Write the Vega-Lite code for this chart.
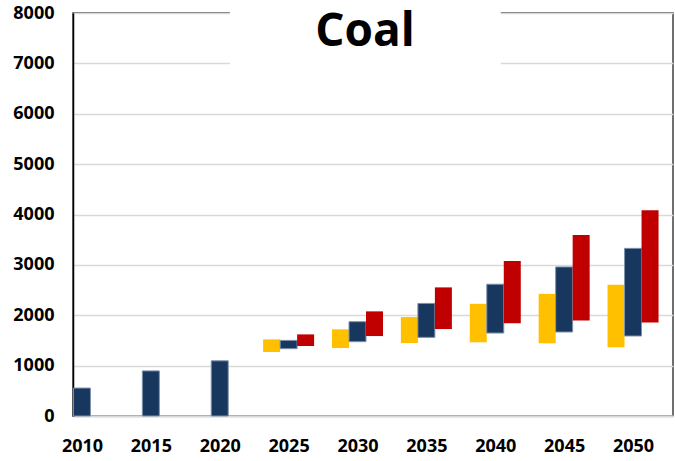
{
  "$schema": "https://vega.github.io/schema/vega-lite/v6.json",
  "width": 600,
  "height": 403,
  "autosize": "none",
  "padding": {"left": 73, "top": 13, "right": 2, "bottom": 45},
  "datasets": {
    "coal": [
      {"year": 2010, "scenario": "Central", "low": 0, "high": 555},
      {"year": 2015, "scenario": "Central", "low": 0, "high": 895},
      {"year": 2020, "scenario": "Central", "low": 0, "high": 1095},
      {"year": 2025, "scenario": "Low", "low": 1270, "high": 1521},
      {"year": 2025, "scenario": "Central", "low": 1336, "high": 1501},
      {"year": 2025, "scenario": "High", "low": 1389, "high": 1620},
      {"year": 2030, "scenario": "Low", "low": 1349, "high": 1720},
      {"year": 2030, "scenario": "Central", "low": 1475, "high": 1872},
      {"year": 2030, "scenario": "High", "low": 1587, "high": 2077},
      {"year": 2035, "scenario": "Low", "low": 1448, "high": 1964},
      {"year": 2035, "scenario": "Central", "low": 1561, "high": 2235},
      {"year": 2035, "scenario": "High", "low": 1726, "high": 2553},
      {"year": 2040, "scenario": "Low", "low": 1463, "high": 2227},
      {"year": 2040, "scenario": "Central", "low": 1647, "high": 2616},
      {"year": 2040, "scenario": "High", "low": 1839, "high": 3077},
      {"year": 2045, "scenario": "Low", "low": 1443, "high": 2425},
      {"year": 2045, "scenario": "Central", "low": 1667, "high": 2959},
      {"year": 2045, "scenario": "High", "low": 1898, "high": 3591},
      {"year": 2050, "scenario": "Low", "low": 1364, "high": 2603},
      {"year": 2050, "scenario": "Central", "low": 1588, "high": 3328},
      {"year": 2050, "scenario": "High", "low": 1858, "high": 4086}
    ],
    "titlebox": [{"label": "Coal"}]
  },
  "layer": [
    {
      "data": {"name": "coal"},
      "encoding": {
        "x": {
          "field": "year",
          "type": "quantitative",
          "scale": {"domain": [2009.35, 2052.9], "nice": false, "zero": false, "padding": 0},
          "axis": {
            "title": null,
            "values": [2010, 2015, 2020, 2025, 2030, 2035, 2040, 2045, 2050],
            "format": "d",
            "grid": false,
            "ticks": false,
            "domainColor": "#d9d9d9",
            "domainWidth": 2,
            "labelFont": "Open Sans",
            "labelFontSize": 18,
            "labelFontWeight": "bold",
            "labelColor": "#000000",
            "labelPadding": 21,
            "labelFlush": false,
            "labelOverlap": false
          }
        },
        "y": {
          "field": "low",
          "type": "quantitative",
          "scale": {"domain": [0, 8000], "nice": false, "padding": 0},
          "axis": {
            "title": null,
            "values": [0, 1000, 2000, 3000, 4000, 5000, 6000, 7000, 8000],
            "format": "d",
            "grid": true,
            "gridColor": "#d9d9d9",
            "gridWidth": 1.5,
            "ticks": false,
            "domainColor": "#000000",
            "domainWidth": 1.5,
            "labelFont": "Open Sans",
            "labelFontSize": 18,
            "labelFontWeight": "bold",
            "labelColor": "#000000",
            "labelPadding": 19,
            "labelFlush": false,
            "labelOverlap": false
          }
        },
        "y2": {"field": "high"}
      },
      "layer": [
        {
          "transform": [{"filter": "datum.scenario === 'Low'"}],
          "mark": {"type": "bar", "width": 17, "xOffset": -17, "color": "#FFC000"}
        },
        {
          "transform": [{"filter": "datum.scenario === 'Central'"}],
          "mark": {"type": "bar", "width": 17, "xOffset": 0, "color": "#17375E", "stroke": "#7f93ad", "strokeWidth": 1}
        },
        {
          "transform": [{"filter": "datum.scenario === 'High'"}],
          "mark": {"type": "bar", "width": 17, "xOffset": 17, "color": "#C00000"}
        }
      ]
    },
    {
      "data": {"name": "titlebox"},
      "layer": [
        {
          "mark": {"type": "rect", "color": "#ffffff", "clip": false},
          "encoding": {
            "x": {"datum": 2020.74, "type": "quantitative"},
            "x2": {"datum": 2040.4},
            "y": {"datum": 6770, "type": "quantitative"},
            "y2": {"datum": 8400}
          }
        },
        {
          "mark": {
            "type": "text",
            "font": "Open Sans",
            "fontSize": 46,
            "fontWeight": "bold",
            "color": "#000000",
            "align": "center",
            "baseline": "alphabetic"
          },
          "encoding": {
            "text": {"field": "label"},
            "x": {"datum": 2030.55, "type": "quantitative"},
            "y": {"datum": 7337, "type": "quantitative"}
          }
        }
      ]
    }
  ],
  "config": {
    "view": {"stroke": "#404040", "strokeWidth": 1.5},
    "background": "#ffffff"
  }
}
